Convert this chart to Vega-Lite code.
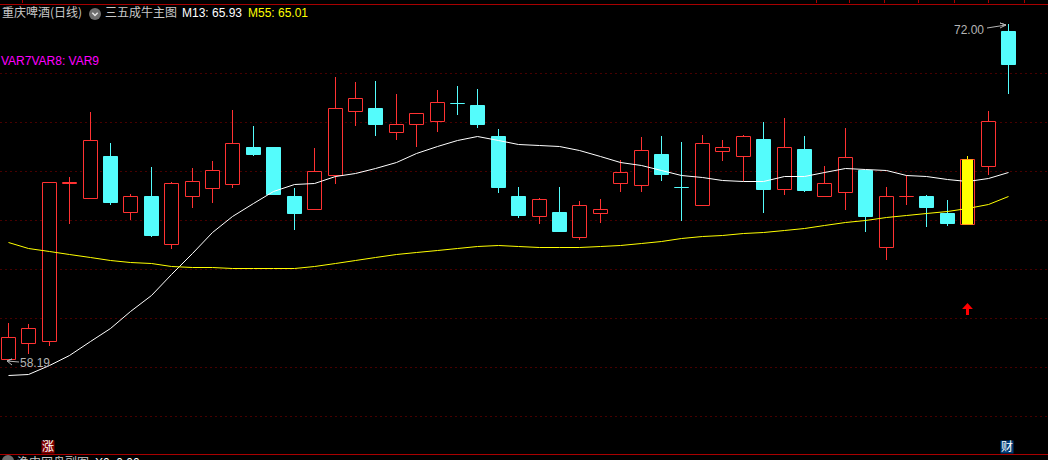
{"$schema":"https://vega.github.io/schema/vega-lite/v6.json","width":1048,"height":460,"padding":0,"autosize":{"type":"none"},"background":"#000000","config":{"view":{"stroke":null}},
"datasets":{"candles":[
{"d":0,"kind":"up","o":58.23,"c":59.14,"h":59.71,"l":58.19,"m13":57.57,"m55":63.04},
{"d":1,"kind":"up","o":58.89,"c":59.50,"h":59.67,"l":58.44,"m13":57.61,"m55":62.79},
{"d":2,"kind":"up","o":58.97,"c":65.51,"h":65.51,"l":58.76,"m13":57.99,"m55":62.67},
{"d":3,"kind":"up","o":65.45,"c":65.49,"h":65.71,"l":63.78,"m13":58.40,"m55":62.53},
{"d":4,"kind":"up","o":64.85,"c":67.23,"h":68.38,"l":64.85,"m13":58.97,"m55":62.42},
{"d":5,"kind":"down","o":66.57,"c":64.68,"h":67.11,"l":64.56,"m13":59.51,"m55":62.30},
{"d":6,"kind":"up","o":64.27,"c":64.93,"h":65.01,"l":63.94,"m13":60.20,"m55":62.22},
{"d":7,"kind":"down","o":64.93,"c":63.33,"h":66.12,"l":63.25,"m13":60.86,"m55":62.16},
{"d":8,"kind":"up","o":62.96,"c":65.47,"h":65.51,"l":62.75,"m13":61.72,"m55":62.07},
{"d":9,"kind":"up","o":64.93,"c":65.55,"h":66.08,"l":64.44,"m13":62.59,"m55":62.03},
{"d":10,"kind":"up","o":65.26,"c":66.00,"h":66.37,"l":64.64,"m13":63.45,"m55":62.01},
{"d":11,"kind":"up","o":65.42,"c":67.11,"h":68.47,"l":65.26,"m13":64.11,"m55":61.99},
{"d":12,"kind":"down","o":66.94,"c":66.66,"h":67.81,"l":66.57,"m13":64.64,"m55":61.97},
{"d":13,"kind":"down","o":66.94,"c":65.01,"h":66.94,"l":65.01,"m13":65.14,"m55":61.97},
{"d":14,"kind":"down","o":64.93,"c":64.23,"h":65.26,"l":63.53,"m13":65.42,"m55":61.97},
{"d":15,"kind":"up","o":64.40,"c":65.96,"h":66.90,"l":64.40,"m13":65.47,"m55":62.05},
{"d":16,"kind":"up","o":65.79,"c":68.55,"h":69.82,"l":65.42,"m13":65.75,"m55":62.18},
{"d":17,"kind":"up","o":68.42,"c":68.96,"h":69.62,"l":67.81,"m13":65.88,"m55":62.30},
{"d":18,"kind":"down","o":68.55,"c":67.89,"h":69.66,"l":67.40,"m13":66.08,"m55":62.42},
{"d":19,"kind":"up","o":67.56,"c":67.89,"h":69.12,"l":67.23,"m13":66.33,"m55":62.55},
{"d":20,"kind":"up","o":67.89,"c":68.34,"h":68.34,"l":66.94,"m13":66.70,"m55":62.63},
{"d":21,"kind":"up","o":68.01,"c":68.79,"h":69.29,"l":67.56,"m13":66.99,"m55":62.71},
{"d":22,"kind":"down","o":68.75,"c":68.75,"h":69.45,"l":68.26,"m13":67.23,"m55":62.79},
{"d":23,"kind":"down","o":68.67,"c":67.89,"h":69.33,"l":67.73,"m13":67.40,"m55":62.88},
{"d":24,"kind":"down","o":67.40,"c":65.30,"h":67.69,"l":65.05,"m13":67.23,"m55":62.92},
{"d":25,"kind":"down","o":64.93,"c":64.15,"h":65.30,"l":64.03,"m13":67.07,"m55":62.88},
{"d":26,"kind":"up","o":64.11,"c":64.81,"h":64.85,"l":63.78,"m13":67.01,"m55":62.83},
{"d":27,"kind":"down","o":64.27,"c":63.49,"h":65.30,"l":63.45,"m13":66.99,"m55":62.83},
{"d":28,"kind":"up","o":63.25,"c":64.56,"h":64.72,"l":63.12,"m13":66.82,"m55":62.83},
{"d":29,"kind":"up","o":64.23,"c":64.40,"h":64.81,"l":63.82,"m13":66.57,"m55":62.88},
{"d":30,"kind":"up","o":65.47,"c":65.92,"h":66.41,"l":65.10,"m13":66.33,"m55":62.92},
{"d":31,"kind":"up","o":65.38,"c":66.82,"h":67.36,"l":65.10,"m13":66.20,"m55":63.00},
{"d":32,"kind":"down","o":66.66,"c":65.84,"h":67.40,"l":65.55,"m13":66.00,"m55":63.08},
{"d":33,"kind":"down","o":65.30,"c":65.30,"h":67.15,"l":63.90,"m13":65.79,"m55":63.20},
{"d":34,"kind":"up","o":64.56,"c":67.11,"h":67.44,"l":64.52,"m13":65.71,"m55":63.29},
{"d":35,"kind":"up","o":66.78,"c":66.94,"h":67.23,"l":66.37,"m13":65.59,"m55":63.33},
{"d":36,"kind":"up","o":66.57,"c":67.40,"h":67.44,"l":65.55,"m13":65.55,"m55":63.39},
{"d":37,"kind":"down","o":67.27,"c":65.22,"h":67.97,"l":64.23,"m13":65.55,"m55":63.45},
{"d":38,"kind":"up","o":65.22,"c":66.94,"h":68.14,"l":64.97,"m13":65.75,"m55":63.53},
{"d":39,"kind":"down","o":66.86,"c":65.18,"h":67.40,"l":65.10,"m13":65.75,"m55":63.61},
{"d":40,"kind":"up","o":64.93,"c":65.47,"h":66.16,"l":64.93,"m13":65.92,"m55":63.74},
{"d":41,"kind":"up","o":65.10,"c":66.53,"h":67.73,"l":64.36,"m13":66.08,"m55":63.86},
{"d":42,"kind":"down","o":66.00,"c":64.11,"h":66.00,"l":63.45,"m13":66.06,"m55":63.96},
{"d":43,"kind":"up","o":62.83,"c":64.93,"h":65.30,"l":62.30,"m13":66.00,"m55":64.07},
{"d":44,"kind":"up","o":64.91,"c":64.95,"h":65.79,"l":64.56,"m13":65.81,"m55":64.13},
{"d":45,"kind":"down","o":64.93,"c":64.48,"h":64.97,"l":63.66,"m13":65.75,"m55":64.23},
{"d":46,"kind":"down","o":64.23,"c":63.82,"h":64.77,"l":63.70,"m13":65.63,"m55":64.33},
{"d":47,"kind":"up","o":63.78,"c":66.45,"h":66.57,"l":63.78,"m13":65.55,"m55":64.44,"signal":60.29},
{"d":48,"kind":"up","o":66.16,"c":68.01,"h":68.42,"l":65.79,"m13":65.67,"m55":64.60},
{"d":49,"kind":"down","o":71.71,"c":70.36,"h":72.00,"l":69.12,"m13":65.93,"m55":64.95}
],
"frame":[{"p":72.84},{"p":54.33}],
"ticks":[{"d":0.71},{"d":39.57},{"d":41.23},{"d":42.90},{"d":44.61},{"d":46.33},{"d":48.04},{"d":49.76}],
"cjk":[{"d":-0.27,"p":72.45,"t":"重庆啤酒(日线)"},{"d":4.73,"p":72.45,"t":"三五成牛主图"},{"d":0.42,"p":53.96,"t":"渔中网盘副图"}],
"latin":[{"d":8.55,"p":72.45,"t":"M13: 65.93","role":"m13"},{"d":11.74,"p":72.45,"t":"M55: 65.01","role":"m55"},{"d":-0.32,"p":70.48,"t":"VAR7VAR8: VAR9","role":"var"},{"d":0.61,"p":58.07,"t":"58.19","role":"price"},{"d":4.26,"p":53.96,"t":"X0: 0.00","role":"m13"}],
"priceHigh":[{"d":47.80,"p":71.75,"t":"72.00"}],
"leaders":[
{"id":"a","n":1,"d":47.95,"p":71.84},{"id":"a","n":2,"d":48.88,"p":71.96},{"id":"a","n":3,"d":48.63,"p":72.04},{"id":"a","n":4,"d":48.88,"p":71.96},{"id":"a","n":5,"d":48.63,"p":71.84},
{"id":"b","n":1,"d":0.56,"p":58.11},{"id":"b","n":2,"d":-0.03,"p":58.13},{"id":"b","n":3,"d":0.22,"p":58.23},{"id":"b","n":4,"d":-0.03,"p":58.13},{"id":"b","n":5,"d":0.22,"p":57.99}],
"badges":[{"d":1.96,"p":54.61,"t":"涨","role":"rise"},{"d":48.95,"p":54.63,"t":"财","role":"fin"}],
"icons":[{"d":4.24,"p":72.43},{"d":0,"p":54.04}]
},
"encoding":{"x":{"field":"d","type":"quantitative","axis":null,"scale":{"domain":[-0.392,50.96],"nice":false,"zero":false,"round":true,"padding":0}}},
"layer":[
{"data":{"name":"frame"},"mark":{"type":"rule","color":"#a80000","strokeWidth":1,"yOffset":0.5},"encoding":{"x":{"value":0},"x2":{"value":1048},"y":{"field":"p","type":"quantitative","scale":{"domain":[54.08,72.986],"nice":false,"zero":false,"round":true},"axis":{"values":[69.99,67.97,65.96,63.94,61.93,59.92,57.90,55.89],"grid":true,"gridColor":"#900000","gridDash":[1,4],"gridWidth":1,"gridOpacity":1,"domain":false,"ticks":false,"labels":false,"title":null}}}},
{"data":{"name":"ticks"},"transform":[{"calculate":"72.986","as":"t0"},{"calculate":"72.86","as":"t1"}],"mark":{"type":"rule","color":"#a80000","strokeWidth":1,"xOffset":0.5},"encoding":{"y":{"field":"t0","type":"quantitative"},"y2":{"field":"t1"}}},
{"data":{"name":"candles"},"mark":{"type":"rule","strokeWidth":1,"xOffset":0.5},"encoding":{"y":{"field":"l","type":"quantitative"},"y2":{"field":"h"},"color":{"field":"kind","type":"nominal","legend":null,"scale":{"domain":["up","down"],"range":["#ff3232","#54fcfc"]}}}},
{"data":{"name":"candles"},"mark":{"type":"bar","size":14,"strokeWidth":1,"xOffset":0.5,"yOffset":0.5,"y2Offset":0.5},"encoding":{"y":{"field":"o","type":"quantitative"},"y2":{"field":"c"},"fill":{"field":"kind","type":"nominal","legend":null,"scale":{"domain":["up","down"],"range":["#000000","#54fcfc"]}},"stroke":{"field":"kind","type":"nominal","legend":null,"scale":{"domain":["up","down"],"range":["#ff3232","#54fcfc"]}}}},
{"data":{"name":"candles"},"mark":{"type":"line","color":"#ffffff","strokeWidth":1,"xOffset":0.5,"yOffset":0.5},"encoding":{"y":{"field":"m13","type":"quantitative"}}},
{"data":{"name":"candles"},"mark":{"type":"line","color":"#ffff00","strokeWidth":1,"xOffset":0.5,"yOffset":0.5},"encoding":{"y":{"field":"m55","type":"quantitative"}}},
{"data":{"name":"candles"},"transform":[{"filter":"isValid(datum.signal)"}],"mark":{"type":"bar","size":11,"color":"#ffff00","xOffset":0.5,"yOffset":0.5,"y2Offset":0.5},"encoding":{"y":{"field":"o","type":"quantitative"},"y2":{"field":"c"}}},
{"data":{"name":"candles"},"transform":[{"filter":"isValid(datum.signal)"}],"mark":{"type":"rule","color":"#ffff00","strokeWidth":1,"xOffset":0.5},"encoding":{"y":{"field":"c","type":"quantitative"},"y2":{"field":"h"}}},
{"data":{"name":"candles"},"transform":[{"filter":"isValid(datum.signal)"}],"mark":{"type":"point","filled":true,"color":"#ff0000","opacity":1,"size":144,"shape":"M0,-1L0.9,0L0.25,0L0.25,1L-0.25,1L-0.25,0L-0.9,0Z","xOffset":0.5},"encoding":{"y":{"field":"signal","type":"quantitative"}}},
{"data":{"name":"leaders"},"mark":{"type":"line","color":"#b4b4b4","strokeWidth":1},"encoding":{"y":{"field":"p","type":"quantitative"},"detail":{"field":"id"},"order":{"field":"n"}}},
{"data":{"name":"icons"},"mark":{"type":"point","filled":true,"color":"#6e6e6e","opacity":1,"size":144,"shape":"circle","clip":true},"encoding":{"y":{"field":"p","type":"quantitative"}}},
{"data":{"name":"icons"},"transform":[{"filter":"datum.d>1"}],"mark":{"type":"point","filled":false,"color":"#e6e6e6","opacity":1,"size":144,"strokeWidth":1.5,"shape":"M-0.45,-0.2L0,0.25L0.45,-0.2"},"encoding":{"y":{"field":"p","type":"quantitative"}}},
{"data":{"name":"cjk"},"mark":{"type":"text","align":"left","baseline":"middle","font":"Noto Sans CJK SC","fontSize":12,"color":"#c8c8c8","clip":true},"encoding":{"y":{"field":"p","type":"quantitative"},"text":{"field":"t"}}},
{"data":{"name":"latin"},"mark":{"type":"text","align":"left","baseline":"middle","font":"Liberation Sans","fontSize":12,"clip":true},"encoding":{"y":{"field":"p","type":"quantitative"},"text":{"field":"t"},"color":{"field":"role","type":"nominal","legend":null,"scale":{"domain":["m13","m55","var","price"],"range":["#ffffff","#ffff00","#ff00ff","#b4b4b4"]}}}},
{"data":{"name":"priceHigh"},"mark":{"type":"text","align":"right","baseline":"middle","font":"Liberation Sans","fontSize":12,"color":"#b4b4b4"},"encoding":{"y":{"field":"p","type":"quantitative"},"text":{"field":"t"}}},
{"data":{"name":"badges"},"mark":{"type":"point","filled":true,"opacity":1,"size":169,"shape":"square"},"encoding":{"y":{"field":"p","type":"quantitative"},"color":{"field":"role","type":"nominal","legend":null,"scale":{"domain":["rise","fin"],"range":["#800000","#003c78"]}}}},
{"data":{"name":"badges"},"mark":{"type":"text","align":"center","baseline":"middle","font":"Noto Sans CJK SC","fontSize":12,"color":"#ffffff"},"encoding":{"y":{"field":"p","type":"quantitative"},"text":{"field":"t"}}}
],
"resolve":{"scale":{"color":"independent","fill":"independent","stroke":"independent"}}}
